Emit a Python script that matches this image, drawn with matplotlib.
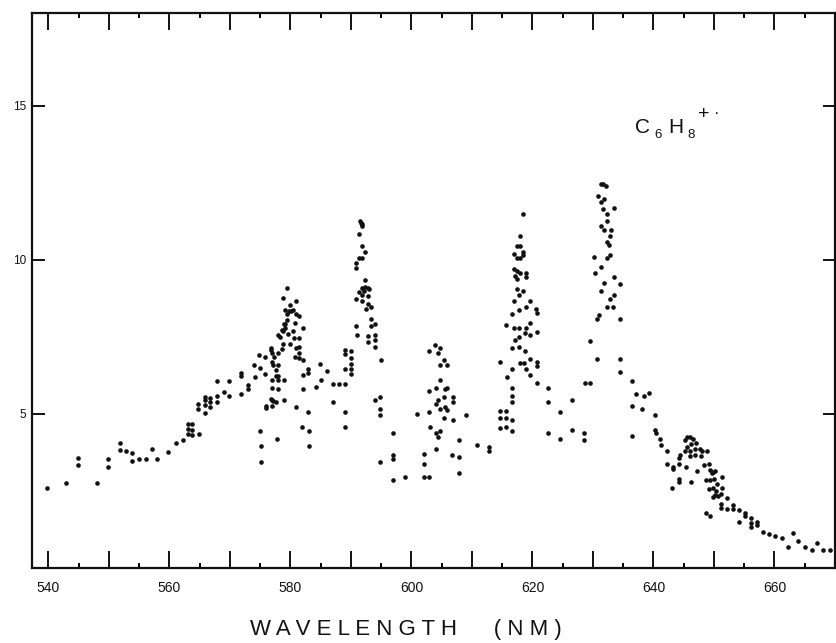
"""
Photodissociation spectrum of C6H8+. (dots) against wavelength
"""

import matplotlib
matplotlib.use('Agg')
import matplotlib.pyplot as plt
from matplotlib.ticker import MultipleLocator

wavelength = [
    # 540 - 565
    539.8, 542.9, 544.9, 544.9, 548.1, 549.8, 549.8, 551.9, 551.9, 552.8,
    553.8, 553.9, 555.0, 556.1, 557.1, 558.0, 559.8, 561.1, 562.2, 563.1,
    563.8, 563.1, 563.8, 563.1, 563.8, 564.9,
    # 565 - 576
    564.8, 564.8, 565.9, 565.9, 565.9, 565.9, 566.7, 566.7, 566.7, 567.9,
    567.9, 567.9, 569.0, 569.9, 569.9, 571.8, 571.8, 571.9, 573.0, 573.0,
    574.0, 574.1, 574.8, 575.0, 575.8, 576.0, 576.0, 575.0, 575.2, 575.2,
    575.8,
    # peak near 580
    576.8, 576.8, 576.9, 576.9, 577.0, 577.0, 577.0, 577.3, 577.6, 577.6,
    578.0, 577.9, 578.0, 578.0, 577.7, 578.0, 578.0, 578.3, 578.6, 578.8,
    578.8, 578.9, 578.9, 579.1, 579.1, 579.4, 579.5, 579.1, 578.8, 579.5,
    579.6, 579.9, 580.1, 580.0, 580.4, 580.5, 580.7, 580.9, 581.0, 581.5,
    580.9, 581.5, 580.8, 581.5, 582.0, 581.5, 582.0, 581.5, 580.9, 582.0,
    582.0, 582.9, 582.9, 582.9, 584.2, 584.9, 585.1, 586.0, 577.8, 581.9,
    583.0, 583.0, 577.0, 577.2, 576.8, 577.2, 579.0, 579.8, 578.6, 580.6,
    # peak near 591
    587.0, 587.1, 588.1, 589.0, 589.0, 589.0, 590.0, 590.0, 590.0, 590.0,
    589.0, 590.0, 589.0, 589.0,
    591.5, 591.7, 591.9, 591.8, 591.4, 591.9, 592.4, 591.4, 591.9, 590.8,
    590.8, 592.4, 592.4, 592.8, 591.9, 592.2, 593.0, 591.4, 591.9, 592.8,
    590.8, 591.9, 592.5, 592.9, 593.3, 590.8, 591.0, 593.4, 594.0, 593.4,
    592.9, 592.9, 594.0, 594.0, 594.0, 594.9, 594.0, 594.8, 594.8, 594.8,
    594.8, 596.9, 596.9, 596.9, 596.9, 598.9,
    # peak near 604
    601.0, 602.1, 602.1, 602.1, 602.9, 602.9, 603.9, 604.8, 604.4, 605.4,
    605.8, 604.7, 604.8, 602.9, 604.0, 605.5, 605.8, 605.4, 606.9, 606.9,
    604.4, 604.0, 604.7, 605.5, 605.9, 602.9, 605.4, 606.8, 609.0, 603.1,
    604.0, 604.8, 604.4, 604.0, 606.7, 607.9, 607.9, 607.9, 610.8, 612.8,
    612.8,
    # peak near 618
    614.7, 615.8, 616.7, 616.7, 616.7, 616.7, 614.7, 615.7, 614.7, 615.7,
    614.7, 615.7, 616.7, 616.7,
    618.5, 617.9, 617.4, 617.9, 617.0, 617.4, 617.9, 618.5, 618.5, 617.0,
    617.4, 617.1, 617.9, 617.4, 619.0, 619.0, 617.4, 618.5, 617.8, 617.0,
    619.6, 619.0, 620.6, 620.7, 617.7, 616.7, 615.6, 617.0, 617.8, 619.0,
    619.6, 618.8, 619.6, 620.8, 617.7, 617.1, 616.7, 617.7, 618.7, 617.9,
    618.6, 619.6, 620.7, 620.8, 619.0, 619.6, 620.7,
    # 622 - 630
    622.6, 622.6, 624.5, 626.5, 622.6, 624.5, 626.5, 628.6, 628.6, 628.7,
    629.5, 629.5,
    # peak near 632
    631.3, 631.7, 632.1, 630.9, 631.3, 631.8, 631.6, 632.3, 633.4, 632.3,
    631.4, 631.9, 633.0, 632.8, 632.3, 632.7, 632.8, 632.3, 630.2, 631.3,
    630.4, 633.4, 631.8, 634.5, 633.4, 631.3, 632.8, 632.4, 633.3, 631.0,
    630.6, 634.4, 630.6, 634.4, 634.4,
    # tail 636 - 670
    636.4, 637.1, 638.4, 639.3, 636.4, 638.1, 640.2, 636.4,
    640.2, 640.5, 641.1, 641.2, 642.3, 642.2, 643.3, 643.2, 643.0, 644.2,
    644.2, 644.3, 644.3, 644.4, 645.4, 646.2,
    645.6, 646.0, 645.2, 646.6, 647.1, 646.2, 645.6, 645.2, 646.0, 646.9,
    647.7, 648.1, 648.8, 646.0, 646.9, 647.8,
    647.2, 648.3, 649.1, 649.3, 649.8, 650.2, 649.6, 651.3, 648.7, 649.4,
    650.0, 649.1, 649.8, 650.5, 650.3, 650.2, 650.6, 651.3, 651.2, 649.8,
    648.7, 649.4, 652.1, 651.2, 651.2, 652.1, 653.1, 653.1, 654.2, 655.1,
    655.1, 654.2, 656.1, 656.2, 656.2, 657.1, 657.1, 658.1, 659.1, 660.1,
    661.2, 662.3, 663.0, 663.9, 665.0, 666.2, 667.1, 668.1, 669.1,
]

intensity = [
    # 540 - 565
    2.61, 2.75, 3.57, 3.33, 2.75, 3.54, 3.28, 4.05, 3.84, 3.79,
    3.72, 3.47, 3.52, 3.54, 3.86, 3.55, 3.77, 4.07, 4.15, 4.67,
    4.67, 4.50, 4.47, 4.34, 4.31, 4.36,
    # 565 - 576
    5.33, 5.17, 5.56, 5.45, 5.28, 5.04, 5.53, 5.37, 5.23, 5.58,
    5.37, 6.07, 5.71, 6.05, 5.58, 6.34, 6.23, 5.66, 5.94, 5.80,
    6.58, 6.20, 6.92, 6.48, 6.29, 5.26, 5.18, 4.45, 3.96, 3.45,
    6.85,
    # peak near 580
    7.15, 7.07, 6.69, 6.09, 5.83, 5.44, 5.26, 6.83, 6.42, 6.23,
    6.23, 6.58, 6.09, 5.82, 5.37, 6.99, 7.56, 7.50, 7.10, 7.69,
    7.26, 6.09, 5.44, 7.91, 7.77, 8.04, 8.24, 8.37, 8.76, 9.07,
    7.59, 7.28, 8.34, 8.54, 8.38, 7.69, 7.96, 8.67, 8.24, 8.16,
    7.15, 7.18, 6.85, 6.80, 6.76, 6.99, 7.80, 7.45, 5.23, 6.27,
    5.82, 6.44, 6.34, 5.07, 5.88, 6.61, 6.09, 6.40, 4.17, 4.57,
    4.45, 3.95, 6.96, 6.59, 5.48, 5.42, 7.93, 8.34, 7.72, 7.46,
    # peak near 591
    5.37, 5.96, 5.96, 5.96, 7.07, 6.94, 7.05, 6.81, 6.63, 6.47,
    6.45, 6.29, 5.07, 4.58,
    11.27, 11.18, 11.10, 11.16, 10.83, 10.43, 10.24, 10.04, 10.04, 9.88,
    9.73, 9.35, 9.12, 9.08, 9.08, 8.99, 9.05, 8.96, 8.85, 8.83,
    8.74, 8.67, 8.40, 8.56, 8.45, 7.86, 7.56, 8.07, 7.93, 7.86,
    7.51, 7.34, 7.55, 7.39, 7.18, 6.75, 5.45, 5.55, 5.17, 4.97,
    3.45, 4.37, 3.67, 3.53, 2.86, 2.96,
    # peak near 604
    5.01, 3.69, 3.39, 2.96, 2.96, 7.05, 7.24, 7.15, 6.96, 6.75,
    6.58, 6.58, 6.09, 5.75, 5.83, 5.80, 5.85, 5.55, 5.55, 5.37,
    5.45, 5.33, 5.17, 5.23, 5.13, 5.07, 4.88, 4.79, 4.97, 4.58,
    4.37, 4.45, 4.25, 3.85, 3.67, 3.60, 3.07, 4.15, 3.98, 3.94,
    3.78,
    # peak near 618
    6.67, 6.18, 6.45, 5.85, 5.58, 5.37, 5.10, 5.10, 4.88, 4.88,
    4.55, 4.58, 4.79, 4.45,
    11.47, 10.76, 10.45, 10.43, 10.18, 10.05, 10.07, 10.26, 10.15, 9.70,
    9.64, 9.48, 9.57, 9.37, 9.57, 9.45, 9.05, 8.97, 8.85, 8.67,
    8.67, 8.45, 8.40, 8.26, 8.37, 8.24, 7.88, 7.77, 7.80, 7.78,
    7.95, 7.62, 7.56, 7.64, 7.48, 7.39, 7.15, 7.18, 7.05, 6.65,
    6.64, 6.78, 6.69, 6.56, 6.47, 6.27, 6.00,
    # 622 - 630
    5.85, 5.39, 5.07, 5.45, 4.38, 4.19, 4.47, 4.38, 4.15, 5.99,
    6.00, 7.35,
    # peak near 632
    12.46, 12.46, 12.38, 12.06, 11.88, 11.97, 11.64, 11.48, 11.67, 11.27,
    11.10, 10.96, 10.96, 10.76, 10.58, 10.49, 10.15, 10.07, 10.10, 9.75,
    9.57, 9.45, 9.26, 9.21, 8.86, 8.97, 8.74, 8.47, 8.47, 8.20,
    8.07, 8.09, 6.78, 6.78, 6.36,
    # tail 636 - 670
    6.05, 5.64, 5.58, 5.69, 5.26, 5.17, 4.97, 4.29,
    4.47, 4.37, 4.18, 3.99, 3.80, 3.37, 3.28, 3.20, 2.61, 2.88,
    2.79, 3.37, 3.56, 3.67, 3.28, 2.80,
    4.25, 4.25, 4.15, 4.18, 4.07, 4.02, 3.93, 3.80, 3.80, 3.85,
    3.85, 3.78, 3.78, 3.64, 3.67, 3.64,
    3.15, 3.34, 3.37, 3.17, 3.13, 3.15, 3.07, 2.96, 2.85, 2.85,
    2.88, 2.56, 2.61, 2.72, 2.50, 2.37, 2.34, 2.59, 2.39, 2.31,
    1.80, 1.69, 2.26, 2.09, 1.96, 1.93, 2.05, 1.91, 1.87, 1.80,
    1.69, 1.49, 1.61, 1.47, 1.34, 1.49, 1.39, 1.17, 1.09, 1.04,
    0.98, 0.69, 1.13, 0.88, 0.69, 0.58, 0.80, 0.58, 0.60,
]

# axis ticks
x_ticks = [540, 550, 560, 570, 580, 590, 600, 610, 620, 630, 640, 650, 660, 670]
x_tick_labels = ['540', '', '560', '', '580', '', '600', '', '620', '', '640', '', '660', '']
y_ticks = [5, 10, 15]
y_tick_labels = ['5', '10', '15']

plt.rcParams['font.family'] = ['Liberation Sans', 'DejaVu Sans']

fig = plt.figure(figsize=(8.36, 6.43), dpi=100)
ax = fig.add_axes([0.0383, 0.1166, 0.9605, 0.8631])

# measured points
ax.scatter(wavelength, intensity, s=11, color='#111111', linewidths=0)

ax.set_xlim(537.3, 670.0)
ax.set_ylim(0, 18)

# ticks on all four sides, pointing inward
ax.set_xticks(x_ticks)
ax.set_xticklabels(x_tick_labels)
ax.xaxis.set_minor_locator(MultipleLocator(5))
ax.set_yticks(y_ticks)
ax.set_yticklabels(y_tick_labels)

ax.tick_params(axis='x', which='major', direction='in', length=12, width=1.4,
               top=True, bottom=True, labelsize=10, pad=9, colors='#111111')
ax.tick_params(axis='x', which='minor', direction='in', length=3.5, width=1.4,
               top=True, bottom=True)
ax.tick_params(axis='y', which='major', direction='in', length=9, width=1.4,
               left=True, right=True, labelsize=8.5, pad=4, colors='#111111')

for spine in ax.spines.values():
    spine.set_linewidth(1.6)
    spine.set_color('#111111')

# molecule label C6H8+. built from pieces, like the hand lettering
ax.text(636.9, 14.12, 'C', fontsize=15, ha='left', va='baseline', color='#111111')
ax.text(640.1, 13.95, '6', fontsize=9.5, ha='left', va='baseline', color='#111111')
ax.text(642.4, 14.12, 'H', fontsize=15, ha='left', va='baseline', color='#111111')
ax.text(645.6, 13.95, '8', fontsize=9.5, ha='left', va='baseline', color='#111111')
ax.text(647.3, 14.7, '+', fontsize=14, ha='left', va='center', color='#111111')
ax.text(650.0, 14.75, '·', fontsize=12, ha='left', va='center', color='#111111')

# axis title with wide letter spacing
fig.text(0.486, 0.021, 'W A V E L E N G T H      ( N M )', fontsize=16,
         ha='center', va='center', color='#111111')

fig.savefig('out.png', dpi=100)
